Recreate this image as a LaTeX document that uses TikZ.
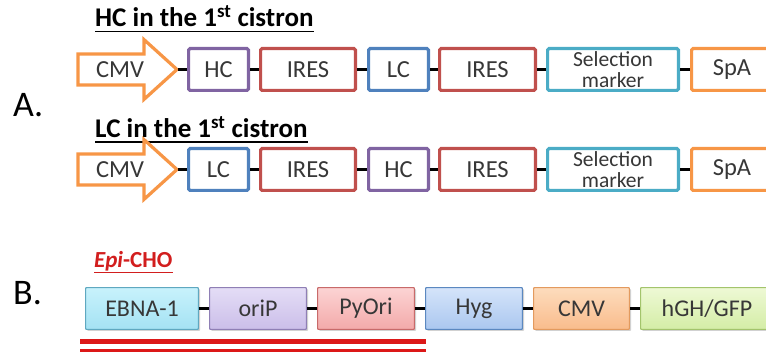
\documentclass[tikz,border=0pt]{standalone}
\usepackage{fontspec}
\setmainfont{Carlito}
\usetikzlibrary{shadows}

\definecolor{cPurple}{RGB}{128,100,162}
\definecolor{cRed}{RGB}{192,80,77}
\definecolor{cBlue}{RGB}{79,129,189}
\definecolor{cCyan}{RGB}{75,172,198}
\definecolor{cOrange}{RGB}{247,150,70}
\definecolor{cText}{RGB}{55,55,55}
\definecolor{cLine}{RGB}{220,24,24}
\definecolor{cTitleRed}{RGB}{210,30,30}

% light fills and borders of the episomal elements
\definecolor{eCyanT}{HTML}{C8F2FC}\definecolor{eCyanB}{HTML}{A4E2F3}\definecolor{eCyanD}{HTML}{5FA8C0}
\definecolor{ePurT}{HTML}{E4DDF6}\definecolor{ePurB}{HTML}{CBBEE9}\definecolor{ePurD}{HTML}{8F7FB5}
\definecolor{eRedT}{HTML}{FCD3D3}\definecolor{eRedB}{HTML}{F3AAAA}\definecolor{eRedD}{HTML}{C86A6A}
\definecolor{eBluT}{HTML}{D5E4FA}\definecolor{eBluB}{HTML}{AAC7EF}\definecolor{eBluD}{HTML}{5B88C0}
\definecolor{eOraT}{HTML}{FDDCBD}\definecolor{eOraB}{HTML}{F9BC8C}\definecolor{eOraD}{HTML}{E39A5E}
\definecolor{eGrnT}{HTML}{EEF9D5}\definecolor{eGrnB}{HTML}{D4EDA6}\definecolor{eGrnD}{HTML}{A3C46C}

\tikzset{
  gene/.style={draw, line width=3.2pt, rounded corners=1.5pt, fill=white,
    minimum height=41.8pt, inner sep=0pt, text=cText,
    font=\fontsize{24.5}{26}\selectfont},
  smalltxt/.style={font=\fontsize{21.5}{21.5}\selectfont, align=center},
  promoter/.style={draw=cOrange, line width=3.2pt, line join=miter, fill=white},
  link/.style={draw=black, line width=2.8pt},
  title/.style={anchor=base west, inner sep=0pt,
    font=\fontsize{27}{29}\selectfont\bfseries},
  uline/.style={line width=1.6pt},
  panel/.style={anchor=base west, inner sep=0pt, font=\fontsize{36}{38}\selectfont},
  epi/.style n args={3}{draw=#3, line width=1.1pt, rounded corners=0.8pt,
    minimum height=41.8pt, inner sep=0pt, text=cText,
    font=\fontsize{24}{26}\selectfont,
    top color=#1, bottom color=#2,
    drop shadow={shadow xshift=1.6pt, shadow yshift=-1.6pt, opacity=0.3, fill=black!60}},
  redbar/.style={draw=cLine, line width=4.5pt}
}

\begin{document}
\begin{tikzpicture}[x=1pt,y=-1pt]
\useasboundingbox (0,0) rectangle (766,352);
\clip (0,0) rectangle (766,352);

% ---------- panel A, first cassette ----------
\node[title] (tA) at (95,27) {HC in the 1\textsuperscript{st} cistron};
\draw[uline] ([yshift=-4.5pt]tA.base west) -- ([yshift=-4.5pt]tA.base east);

\draw[promoter] (78,54) -- (144,54) -- (144,39.6) -- (177,69.5)
  -- (144,99.4) -- (144,85) -- (78,85) -- cycle;
\node[text=cText, font=\fontsize{24.5}{26}\selectfont] (cmvA) at (120,69.5) {CMV};
\coordinate (tipA) at (178,69.5);

\node[gene, draw=cPurple, minimum width=59.8pt] (hcA)   at (218.5,69.5) {HC};
\node[gene, draw=cRed,    minimum width=94.8pt] (iresA) at (308,69.5)   {IRES};
\node[gene, draw=cBlue,   minimum width=59.8pt] (lcA)   at (398.5,69.5) {LC};
\node[gene, draw=cRed,    minimum width=95.8pt] (iresB) at (487.5,69.5) {IRES};
\node[gene, draw=cCyan,   minimum width=130.8pt, smalltxt] (selA) at (613,69.5) {Selection\\marker};
\node[gene, draw=cOrange, minimum width=80.8pt] (spaA)  at (732,69.5)   {SpA};

\draw[link] (tipA) -- (hcA.west);
\draw[link] (hcA.east) -- (iresA.west);
\draw[link] (iresA.east) -- (lcA.west);
\draw[link] (lcA.east) -- (iresB.west);
\draw[link] (iresB.east) -- (selA.west);
\draw[link] (selA.east) -- (spaA.west);

\node[panel] (pA) at (13,117) {A.};

% ---------- panel A, second cassette ----------
\node[title] (tB) at (95,137.5) {LC in the 1\textsuperscript{st} cistron};
\draw[uline] ([yshift=-4.5pt]tB.base west) -- ([yshift=-4.5pt]tB.base east);

\draw[promoter] (78,154) -- (144,154) -- (144,139.6) -- (177,169.5)
  -- (144,199.4) -- (144,185) -- (78,185) -- cycle;
\node[text=cText, font=\fontsize{24.5}{26}\selectfont] (cmvB) at (120,169.5) {CMV};
\coordinate (tipB) at (178,169.5);

\node[gene, draw=cBlue,   minimum width=59.8pt] (lcB)    at (218.5,169.5) {LC};
\node[gene, draw=cRed,    minimum width=94.8pt] (iresC)  at (308,169.5)   {IRES};
\node[gene, draw=cPurple, minimum width=59.8pt] (hcB)    at (398.5,169.5) {HC};
\node[gene, draw=cRed,    minimum width=95.8pt] (iresD)  at (487.5,169.5) {IRES};
\node[gene, draw=cCyan,   minimum width=130.8pt, smalltxt] (selB) at (613,169.5) {Selection\\marker};
\node[gene, draw=cOrange, minimum width=80.8pt] (spaB)   at (732,169.5)   {SpA};

\draw[link] (tipB) -- (lcB.west);
\draw[link] (lcB.east) -- (iresC.west);
\draw[link] (iresC.east) -- (hcB.west);
\draw[link] (hcB.east) -- (iresD.west);
\draw[link] (iresD.east) -- (selB.west);
\draw[link] (selB.east) -- (spaB.west);

% ---------- panel B ----------
\node[title, text=cTitleRed, font=\fontsize{23}{25}\selectfont\bfseries] (tE) at (94,268) {\textit{Epi}-CHO};
\draw[uline, cTitleRed] ([yshift=-4.5pt]tE.base west) -- ([yshift=-4.5pt]tE.base east);

\node[panel] (pB) at (13,305) {B.};

\node[epi={eCyanT}{eCyanB}{eCyanD}, minimum width=112.8pt] (ebna) at (142,308.5)   {EBNA-1};
\node[epi={ePurT}{ePurB}{ePurD},    minimum width=96.8pt]  (orip) at (258,308.5)   {oriP};
\node[epi={eRedT}{eRedB}{eRedD},    minimum width=96.8pt]  (pyo)  at (366,308.5)   {PyOri};
\node[epi={eBluT}{eBluB}{eBluD},    minimum width=96.8pt]  (hyg)  at (474,308.5)   {Hyg};
\node[epi={eOraT}{eOraB}{eOraD},    minimum width=95.8pt]  (cmvE) at (581.5,308.5) {CMV};
\node[epi={eGrnT}{eGrnB}{eGrnD},    minimum width=132.8pt] (hgh)  at (707,308.5)   {hGH/GFP};

\draw[link] (ebna.east) -- (orip.west);
\draw[link] (orip.east) -- (pyo.west);
\draw[link] (pyo.east) -- (hyg.west);
\draw[link] (hyg.east) -- (cmvE.west);
\draw[link] (cmvE.east) -- (hgh.west);

% double red bar under the episomal elements
\draw[redbar] (80,341.7) -- (426,341.7);
\draw[redbar] (80,351.3) -- (426,351.3);
\end{tikzpicture}
\end{document}
